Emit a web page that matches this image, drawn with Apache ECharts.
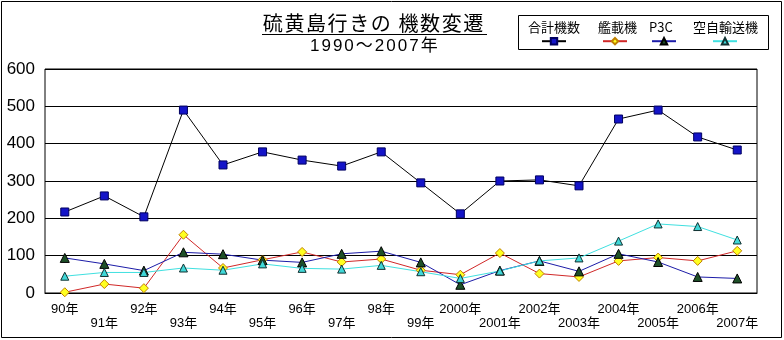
<!DOCTYPE html>
<html><head><meta charset="utf-8">
<script src="https://cdn.jsdelivr.net/npm/echarts@6/dist/echarts.min.js"></script>
<style>html,body{margin:0;padding:0;background:#fff}#c{width:784px;height:340px}</style>
</head><body><div id="c"></div>
<script>
const categories = ['90年','91年','92年','93年','94年','95年','96年','97年','98年','99年','2000年','2001年','2002年','2003年','2004年','2005年','2006年','2007年'];
const seriesNames = ['合計機数','艦載機','P3C','空自輸送機'];
const total   = [217,260,204,490,343,378,356,340,378,295,212,300,303,287,466,490,418,383];
const carrier = [2,24,13,156,67,89,110,83,91,61,49,107,52,43,86,95,86,113];
const p3c     = [94,78,60,109,104,88,82,105,112,82,22,60,86,58,105,83,43,39];
const air     = [45,55,55,67,61,78,66,64,74,57,39,59,86,94,139,185,178,142];
const yTicks = [0,100,200,300,400,500,600];
const titleText = '硫黄島行きの 機数変遷';
const subText = '1990～2007年';

const jp = '"Noto Sans CJK JP", sans-serif';
const mix = '"Liberation Sans", "Noto Sans CJK JP", sans-serif';

// spread characters into rich tokens (letter spacing)
const spaced = s => Array.from(s).map(ch => '{c|' + ch + '}').join('');

const styles = [
  {line:'#000000', fill:'#1414C8', border:'#000060', symbol:'rect', size:8},
  {line:'#D02828', fill:'#FFFF20', border:'#C08000', symbol:'diamond', size:9},
  {line:'#1C1CA8', fill:'#1E5028', border:'#000000', symbol:'triangle', size:9},
  {line:'#40E0E0', fill:'#40D8D8', border:'#103030', symbol:'triangle', size:8}
];
const values = [total, carrier, p3c, air];

const textLefts = [522, 592, 643, 687];
const iconCenters = [553, 614, 663, 724];
const legends = [];
seriesNames.forEach((n, i) => {
  legends.push({
    data: [n], left: textLefts[i], top: 21, itemWidth: 0, itemHeight: 0, padding: 0,
    itemStyle: {opacity: 0}, lineStyle: {opacity: 0},
    textStyle: {fontSize: 13, color: '#000', fontFamily: jp}
  });
  legends.push({
    data: [n], left: iconCenters[i] - 12, top: 37, itemWidth: 24, itemHeight: 8, padding: 0,
    formatter: () => '', textStyle: {fontSize: 1}
  });
});

const chart = echarts.init(document.getElementById('c'), null, {renderer: 'canvas'});
chart.setOption({
  animation: false,
  backgroundColor: '#fff',
  title: [
    {text: spaced(titleText), left: 262, top: 13, padding: 0,
     textStyle: {fontSize: 20, fontWeight: 'normal', color: '#000', fontFamily: jp,
       rich: {c: {fontSize: 20, fontFamily: jp, color: '#000', padding: [0, 0.8, 0, 0.8]}}}},
    {text: spaced(subText), left: 309, top: 38, padding: 0,
     textStyle: {fontSize: 17, fontWeight: 'normal', color: '#000', fontFamily: mix,
       rich: {c: {fontSize: 17, fontFamily: mix, color: '#000', padding: [0, 1, 0, 1]}}}}
  ],
  legend: legends,
  graphic: [
    {type: 'rect', shape: {x: 1.5, y: 1.5, width: 780, height: 336}, style: {fill: null, stroke: '#000', lineWidth: 1}, silent: true, z: -1},
    {type: 'rect', shape: {x: 518.5, y: 15.5, width: 250, height: 34}, style: {fill: null, stroke: '#000', lineWidth: 1}, silent: true},
    {type: 'line', shape: {x1: 262, y1: 34.5, x2: 487, y2: 34.5}, style: {stroke: '#000', lineWidth: 1}, silent: true}
  ],
  grid: {left: 45, top: 69, right: 27, bottom: 47, show: true, borderColor: '#000', borderWidth: 1, backgroundColor: 'transparent'},
  xAxis: {
    type: 'category', data: categories, boundaryGap: true,
    axisLine: {show: true, lineStyle: {color: '#000'}}, axisTick: {show: false},
    axisLabel: {interval: 0, margin: 9, fontSize: 13, lineHeight: 14, color: '#000', fontFamily: mix,
      formatter: (v, i) => (i % 2 ? '\n' + v : v)}
  },
  yAxis: {
    type: 'value', min: yTicks[0], max: yTicks[yTicks.length - 1], interval: 100,
    axisLine: {show: false}, axisTick: {show: false},
    axisLabel: {margin: 10, fontSize: 17, color: '#000', fontFamily: mix},
    splitLine: {lineStyle: {color: '#000', width: 1}}
  },
  series: values.map((d, i) => ({
    name: seriesNames[i], type: 'line', data: d,
    symbol: styles[i].symbol, symbolSize: styles[i].size,
    lineStyle: {color: styles[i].line, width: 1},
    itemStyle: {color: styles[i].fill, borderColor: styles[i].border, borderWidth: 1},
    emphasis: {disabled: true}
  }))
});
</script></body></html>
